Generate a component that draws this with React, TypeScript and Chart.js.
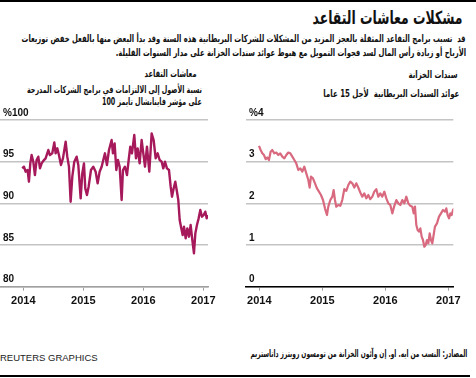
import React, { useEffect, useLayoutEffect, useRef } from 'react';
import { Chart, registerables } from 'chart.js';
Chart.register(...registerables);

const yearTicks = [2014, 2015, 2016, 2017];

// Left panel: ratio of assets to liabilities (%)
const pensionDates = [
  2013.983, 2014.011, 2014.039, 2014.072, 2014.094, 2014.117, 2014.139, 2014.167, 2014.194, 2014.222,
  2014.25, 2014.278, 2014.306, 2014.333, 2014.372, 2014.417, 2014.444, 2014.483, 2014.517, 2014.539,
  2014.567, 2014.594, 2014.628, 2014.661, 2014.706, 2014.733, 2014.761, 2014.789, 2014.817, 2014.85,
  2014.889, 2014.917, 2014.956, 2014.983, 2015.011, 2015.033, 2015.061, 2015.089, 2015.128, 2015.167,
  2015.206, 2015.239, 2015.272, 2015.306, 2015.333, 2015.361, 2015.394, 2015.428, 2015.472, 2015.494,
  2015.522, 2015.55, 2015.578, 2015.606, 2015.639, 2015.661, 2015.694, 2015.728, 2015.756, 2015.783,
  2015.811, 2015.85, 2015.878, 2015.906, 2015.939, 2015.972, 2016.0, 2016.028, 2016.061, 2016.1,
  2016.139, 2016.172, 2016.206, 2016.239, 2016.272, 2016.306, 2016.333, 2016.361, 2016.394, 2016.428,
  2016.456, 2016.478, 2016.506, 2016.533, 2016.561, 2016.583, 2016.606, 2016.628, 2016.656, 2016.678,
  2016.706, 2016.733, 2016.761, 2016.789, 2016.817, 2016.844, 2016.867, 2016.894, 2016.922, 2016.95,
  2016.978, 2017.006, 2017.033, 2017.056, 2017.072,
];
const pensionRatio = [
  94.2, 94.4, 93.8, 94.0, 92.6, 94.8, 95.8, 95.0, 93.4, 95.2,
  95.6, 94.2, 94.8, 95.1, 95.4, 96.4, 95.8, 96.0, 97.3, 96.0,
  96.6, 95.8, 94.6, 95.4, 97.4, 95.6, 94.4, 90.2, 93.2, 95.0,
  95.6, 94.6, 90.6, 93.6, 94.8, 91.8, 91.0, 92.0, 94.0, 94.4,
  93.8, 92.4, 93.8, 94.4, 95.2, 96.0, 94.6, 96.4, 97.6, 96.0,
  97.2, 94.0, 95.2, 94.4, 90.4, 94.0, 94.4, 93.4, 95.2, 96.8,
  96.0, 98.2, 95.4, 96.6, 94.8, 97.6, 96.0, 94.4, 96.8, 93.8,
  98.4, 97.6, 95.4, 96.0, 95.2, 95.0, 94.2, 95.0, 94.2, 94.0,
  92.0, 90.8, 91.8, 92.6, 91.4, 90.4, 88.0, 87.2, 86.2, 87.2,
  85.8, 87.0, 86.0, 87.4, 85.6, 84.0, 86.4, 87.4, 88.2, 89.2,
  88.4, 88.6, 89.0, 88.2, 88.6,
];

// Right panel: 15-year UK gilt yields (%)
const bondDates = [
  2013.995, 2014.021, 2014.048, 2014.074, 2014.101, 2014.127, 2014.153, 2014.18, 2014.206, 2014.238,
  2014.27, 2014.302, 2014.333, 2014.365, 2014.397, 2014.429, 2014.46, 2014.492, 2014.524, 2014.556,
  2014.587, 2014.619, 2014.651, 2014.683, 2014.714, 2014.746, 2014.778, 2014.799, 2014.82, 2014.852,
  2014.884, 2014.915, 2014.947, 2014.979, 2015.011, 2015.042, 2015.074, 2015.095, 2015.127, 2015.159,
  2015.18, 2015.201, 2015.222, 2015.254, 2015.286, 2015.317, 2015.349, 2015.381, 2015.413, 2015.444,
  2015.476, 2015.508, 2015.54, 2015.571, 2015.603, 2015.635, 2015.667, 2015.698, 2015.73, 2015.762,
  2015.794, 2015.825, 2015.857, 2015.889, 2015.921, 2015.952, 2015.984, 2016.016, 2016.048, 2016.079,
  2016.111, 2016.143, 2016.175, 2016.206, 2016.238, 2016.27, 2016.302, 2016.333, 2016.365, 2016.397,
  2016.429, 2016.45, 2016.471, 2016.492, 2016.513, 2016.534, 2016.556, 2016.577, 2016.598, 2016.619,
  2016.64, 2016.661, 2016.683, 2016.704, 2016.725, 2016.746, 2016.767, 2016.788, 2016.82, 2016.852,
  2016.884, 2016.915, 2016.947, 2016.968, 2016.989, 2017.011, 2017.032, 2017.053, 2017.074, 2017.095,
];
const bondYield = [
  3.38, 3.28, 3.2, 3.16, 3.06, 3.1, 3.04, 3.24, 3.28, 3.2,
  3.22, 3.16, 3.2, 3.12, 3.08, 3.16, 3.22, 3.2, 3.12, 3.04,
  2.96, 2.8, 2.84, 2.76, 2.88, 2.72, 2.56, 2.38, 2.64, 2.6,
  2.48, 2.36, 2.28, 2.2, 2.08, 1.88, 1.72, 1.92, 2.08, 2.16,
  2.32, 2.08, 1.92, 1.96, 1.94, 2.08, 2.34, 2.3, 2.44, 2.52,
  2.48, 2.38, 2.48, 2.38, 2.26, 2.16, 2.24, 2.12, 2.2, 2.1,
  2.16, 2.28, 2.34, 2.16, 2.24, 2.16, 2.28, 2.12, 2.0, 1.96,
  1.76, 1.94, 2.08, 2.0, 1.96, 2.08, 2.0, 2.16, 2.0, 1.94,
  1.92, 1.76, 1.92, 1.48, 1.36, 1.32, 1.4, 1.2, 1.12, 0.96,
  1.0, 1.12, 1.04, 1.28, 1.12, 1.04, 1.24, 1.44, 1.52, 1.68,
  1.76, 1.84, 1.8, 1.88, 1.72, 1.64, 1.76, 1.72, 1.84, 1.88,
];

const pensionTicks = [80, 85, 90, 95, 100];
const bondTicks = [0, 1, 2, 3, 4];

const LATIN = '"Liberation Sans", Arial, sans-serif';
const ARABIC = '"DejaVu Sans", sans-serif';

type LineProps = {
  dates: number[];
  values: number[];
  color: string;
  width: number;
  xMin: number;
  xMax: number;
  yTicks: number[];
  topLabel: string;
  axisColor: string;
  left: number;
  top: number;
  cw: number;
  ch: number;
  padding: { top: number; left: number; right: number; bottom: number };
  xAxisHeight: number;
};

function LineChart(p: LineProps) {
  const ref = useRef<HTMLCanvasElement>(null);
  useEffect(() => {
    if (!ref.current) return;
    const yMin = p.yTicks[0];
    const yMax = p.yTicks[p.yTicks.length - 1];
    const chart = new Chart(ref.current, {
      type: 'line',
      data: {
        datasets: [
          {
            data: p.dates.map((d, i) => ({ x: d, y: p.values[i] })),
            borderColor: p.color,
            borderWidth: p.width,
            pointRadius: 0,
            tension: 0,
            fill: false,
            borderJoinStyle: 'round',
          },
        ],
      },
      options: {
        animation: false,
        responsive: false,
        maintainAspectRatio: false,
        events: [],
        layout: { padding: p.padding },
        plugins: { legend: { display: false }, tooltip: { enabled: false } },
        scales: {
          x: {
            type: 'linear',
            min: p.xMin,
            max: p.xMax,
            afterBuildTicks: (s: any) => {
              s.ticks = yearTicks.map((v) => ({ value: v }));
            },
            afterFit: (s: any) => {
              s.height = p.xAxisHeight;
            },
            grid: { drawOnChartArea: false, drawTicks: true, tickLength: 4, color: '#a0a0a0', lineWidth: 1 },
            border: { display: true, color: p.axisColor, width: 1.5 },
            ticks: {
              autoSkip: false,
              maxRotation: 0,
              padding: 4,
              color: '#111',
              font: { family: LATIN, weight: 'bold', size: 11 },
              callback: (v: any) => String(v),
            },
          },
          y: {
            type: 'linear',
            min: yMin,
            max: yMax,
            afterBuildTicks: (s: any) => {
              s.ticks = p.yTicks.map((v) => ({ value: v }));
            },
            afterFit: (s: any) => {
              s.width = 0;
            },
            grid: { drawTicks: false, color: '#c4c4c4', lineWidth: 1.5 },
            border: { display: false },
            ticks: {
              mirror: true,
              padding: 3,
              labelOffset: -7,
              color: '#111',
              font: { family: LATIN, weight: 'bold', size: 10 },
              callback: (v: any) => (v === yMax ? p.topLabel : String(v)),
            },
          },
        },
      } as any,
    });
    return () => chart.destroy();
  }, []);
  return (
    <canvas
      ref={ref}
      width={p.cw}
      height={p.ch}
      style={{ position: 'absolute', left: p.left, top: p.top, width: p.cw, height: p.ch }}
    />
  );
}

type TextProps = {
  lines: string[];
  cys: number[];
  size: number;
  right?: number;
  left?: number;
  fit?: number; // target width of the first line (px), text squeezed horizontally to match
  bold?: boolean;
  family?: string;
  color?: string;
  dir?: 'rtl' | 'ltr';
};

function Txt({ lines, cys, size, right, left, fit, bold = true, family = ARABIC, color = '#111', dir = 'rtl' }: TextProps) {
  const refs = useRef<(HTMLSpanElement | null)[]>([]);
  useLayoutEffect(() => {
    if (!fit) return;
    const first = refs.current[0];
    if (!first) return;
    const w = first.getBoundingClientRect().width;
    const s = w > 0 ? fit / w : 1;
    refs.current.forEach((el) => {
      if (el) el.style.transform = `scaleX(${s})`;
    });
  }, []);
  const lh = Math.round(size * 1.5);
  return (
    <>
      {lines.map((t, i) => {
        const style: React.CSSProperties = {
          position: 'absolute',
          top: cys[i] - lh / 2,
          lineHeight: `${lh}px`,
          height: lh,
          fontSize: size,
          fontFamily: family,
          fontWeight: bold ? 'bold' : 'normal',
          color,
          whiteSpace: 'pre',
          direction: dir,
          display: 'inline-block',
          transformOrigin: right !== undefined ? 'right center' : 'left center',
        };
        if (right !== undefined) style.right = 476 - right;
        if (left !== undefined) style.left = left;
        return (
          <span key={i} ref={(el) => { refs.current[i] = el; }} style={style}>
            {t}
          </span>
        );
      })}
    </>
  );
}

export default function App() {
  return (
    <div
      style={{
        position: 'fixed',
        left: 0,
        top: 0,
        width: 476,
        height: 378,
        background: '#fff',
        overflow: 'hidden',
      }}
    >
      <div style={{ position: 'absolute', left: 0, top: 0, width: 476, height: 2, background: '#000' }} />
      <Txt lines={['مشكلات معاشات التقاعد']} cys={[17]} size={18} right={463} fit={150} />
      <Txt
        lines={[
          'قد  تسبب برامج التقاعد المثقلة بالعجز المزيد من المشكلات للشركات البريطانية هذه السنة وقد بدأ البعض منها بالفعل خفض توزيعات',
          'الأرباح أو زيادة رأس المال لسد فجوات التمويل مع هبوط عوائد سندات الخزانة على مدار السنوات القليلة.',
        ]}
        cys={[38.5, 52.5]}
        size={10}
        right={466}
        fit={444}
      />

      <Txt lines={['معاشات التقاعد']} cys={[73]} size={10} right={197} fit={52} />
      <Txt
        lines={['نسبة الأصول إلى الالتزامات في برامج الشركات المدرجة', 'على مؤشر فاينانشال تايمز 100']}
        cys={[89, 101]}
        size={10}
        right={202}
        fit={175}
      />

      <Txt lines={['سندات الخزانة']} cys={[74]} size={10} right={458} fit={49} />
      <Txt lines={['عوائد السندات البريطانية  لأجل 15 عاما']} cys={[93]} size={10} right={459} fit={136} />

      <LineChart
        dates={pensionDates}
        values={pensionRatio}
        color="#a6195b"
        width={2.4}
        xMin={2013.612}
        xMax={2017.078}
        yTicks={pensionTicks}
        topLabel="%100"
        axisColor="#a0a0a0"
        left={0}
        top={100}
        cw={224}
        ch={212}
        padding={{ top: 20, left: 0, right: 16, bottom: 0 }}
        xAxisHeight={25.3}
      />
      <LineChart
        dates={bondDates}
        values={bondYield}
        color="#d8697f"
        width={2.2}
        xMin={2013.789}
        xMax={2017.079}
        yTicks={bondTicks}
        topLabel="%4"
        axisColor="#000"
        left={236}
        top={100}
        cw={234}
        ch={212}
        padding={{ top: 20, left: 10, right: 16.7, bottom: 0 }}
        xAxisHeight={25.3}
      />

      <Txt
        lines={['المصادر: النسب من ايه. او. إن وآئون الخزانة من تومسون رويترز داتاستريم']}
        cys={[353]}
        size={10}
        right={467}
        fit={217}
      />
      <Txt
        lines={['REUTERS GRAPHICS']}
        cys={[358]}
        size={9.5}
        left={0}
        bold={false}
        family={'"Liberation Sans Narrow", "Liberation Sans", sans-serif'}
        color="#222"
        dir="ltr"
      />
      <div style={{ position: 'absolute', left: 0, top: 375, width: 470, height: 2, background: '#000' }} />
    </div>
  );
}
